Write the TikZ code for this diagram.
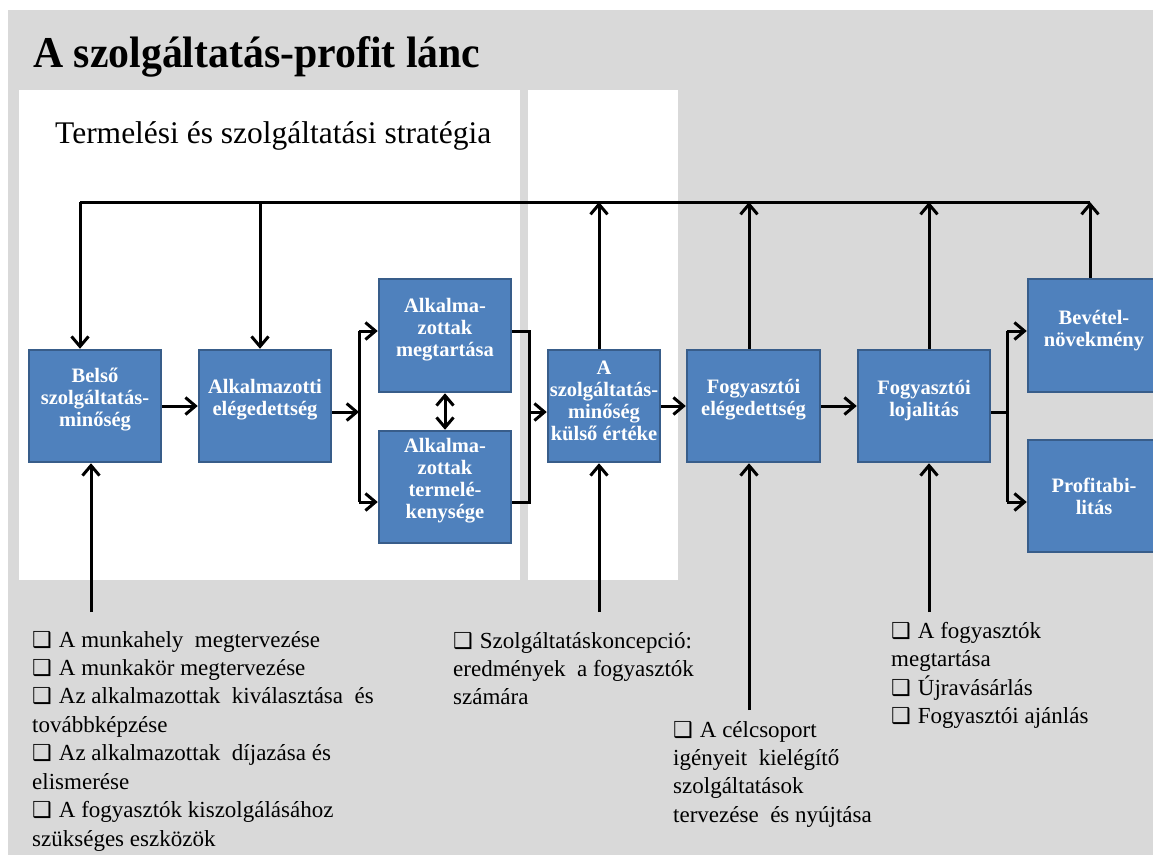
\documentclass[tikz,border=0pt]{standalone}
\usepackage{fontspec}
\setmainfont{Liberation Serif}
\newfontfamily\titlefont{Liberation Serif}[FakeStretch=0.95]
\newfontfamily\dvs{DejaVu Sans}
\usetikzlibrary{arrows.meta}
\definecolor{bggrey}{HTML}{D9D9D9}
\definecolor{boxfill}{HTML}{4F81BD}
\definecolor{boxline}{HTML}{385D8A}
\newcommand\chk{{\dvs\fontsize{22}{22}\selectfont ❑}\hspace{7pt}}
\tikzset{
  tip/.tip={Straight Barb[length=10pt,width=17pt,line width=3pt]},
  bbox/.style={draw=boxline, line width=2.5pt, fill=boxfill, minimum width=132pt, minimum height=112pt, inner sep=0pt},
  btext/.style={text=white, font=\fontsize{20.5}{22}\selectfont\bfseries, align=center, inner sep=0pt},
  conn/.style={line width=3pt, draw=black, line join=miter},
  arr/.style={conn, -tip},
  darr/.style={conn, tip-tip},
  lst/.style={anchor=base west, inner sep=0pt, font=\fontsize{23}{28}\selectfont},
}
\begin{document}
\begin{tikzpicture}[x=1pt,y=-1pt]
\useasboundingbox (0,0) rectangle (1153,854);
\clip (0,0) rectangle (1153,854);
% backgrounds
\fill[bggrey] (8,10) rectangle (1160,860);
\fill[white] (19,90) rectangle (520,580);
\fill[white] (528,90) rectangle (678,580);
% headings
\node[anchor=base west, inner sep=0pt, font=\titlefont\fontsize{44}{44}\selectfont\bfseries] (title) at (33,67) {A szolgáltatás-profit lánc};
\node[anchor=base west, inner sep=0pt, font=\fontsize{31.5}{31.5}\selectfont] (strat) at (55,143) {Termelési és szolgáltatási stratégia};
% boxes
\node[bbox] (b1) at (95,406) {};
\node[bbox] (b2) at (265,406) {};
\node[bbox, minimum height=113pt] (b3) at (445,335.5) {};
\node[bbox] (b4) at (445,487) {};
\node[bbox, minimum width=112pt] (b5) at (604,406) {};
\node[bbox, minimum width=133pt] (b6) at (753.5,406) {};
\node[bbox] (b7) at (924,406) {};
\node[bbox, minimum height=113pt] (b8) at (1094,335.5) {};
\node[bbox] (b9) at (1094,496) {};
% box texts
\node[btext] (t1) at ([yshift=6pt]b1.center) {Belső\\szolgáltatás-\\minőség};
\node[btext] (t2) at ([yshift=6pt]b2.center) {Alkalmazotti\\elégedettség};
\node[btext] (t3) at ([yshift=6pt]b3.center) {Alkalma-\\zottak\\megtartása};
\node[btext] (t4) at ([yshift=6pt]b4.center) {Alkalma-\\zottak\\termelé-\\kenysége};
\node[btext] (t5) at ([yshift=5pt]b5.center) {A\\szolgáltatás-\\minőség\\külső értéke};
\node[btext] (t6) at ([yshift=6pt]b6.center) {Fogyasztói\\elégedettség};
\node[btext] (t7) at ([yshift=5pt]b7.center) {Fogyasztói\\lojalitás};
\node[btext] (t8) at ([yshift=5pt]b8.center) {Bevétel-\\növekmény};
\node[btext] (t9) at (b9.center) {Profitabi-\\litás};
% coordinates
\coordinate (tl) at (80,202);
\coordinate (t2c) at (260,202);
\coordinate (u5) at (599,202);
\coordinate (u6) at (749,202);
\coordinate (u7) at (929,202);
\coordinate (u8) at (1090,202);
\coordinate (d1) at (91,612);
\coordinate (d5) at (599,612);
\coordinate (d6) at (749,710);
\coordinate (d7) at (929,612);
\coordinate (j1) at (359,412);
\coordinate (j1t) at (359,331);
\coordinate (j1b) at (359,502);
\coordinate (j2) at (529,412);
\coordinate (j2t) at (529,331);
\coordinate (j2b) at (529,502);
\coordinate (j3) at (1007,412);
\coordinate (j3t) at (1007,331);
\coordinate (j3b) at (1007,502);
% top feedback loop
\draw[conn] (u8) -- (tl);
\draw[arr] (tl) -- (tl |- b1.north);
\draw[arr] (t2c) -- (t2c |- b2.north);
\draw[arr] (u5 |- b5.north) -- (u5);
\draw[arr] (u6 |- b6.north) -- (u6);
\draw[arr] (u7 |- b7.north) -- (u7);
\draw[arr] (u8 |- b8.north) -- (u8);
% bottom inputs
\draw[arr] (d1) -- (d1 |- b1.south);
\draw[arr] (d5) -- (d5 |- b5.south);
\draw[arr] (d6) -- (d6 |- b6.south);
\draw[arr] (d7) -- (d7 |- b7.south);
% main chain
\draw[arr] (b1.east) -- (b2.west);
\draw[arr] (b2.east |- j1) -- (j1);
\draw[conn] (j1t) -- (j1b);
\draw[arr] (j1t) -- (j1t -| b3.west);
\draw[arr] (j1b) -- (j1b -| b4.west);
\draw[darr] (b3.south) -- (b4.north);
\draw[conn] (b3.east |- j2t) -- (j2t) -- (j2b) -- (b4.east |- j2b);
\draw[arr] (j2) -- (j2 -| b5.west);
\draw[arr] (b5.east) -- (b6.west);
\draw[arr] (b6.east) -- (b7.west);
\draw[conn] (b7.east |- j3) -- (j3);
\draw[conn] (j3t) -- (j3b);
\draw[arr] (j3t) -- (j3t -| b8.west);
\draw[arr] (j3b) -- (j3b -| b9.west);
% lists
\node[lst] (l1) at (32,647) {\chk A munkahely\ \ megtervezése};
\node[lst] (l2) at (32,675) {\chk A munkakör megtervezése};
\node[lst] (l3) at (32,703) {\chk Az alkalmazottak\ \ kiválasztása\ \ és};
\node[lst] (l4) at (32,732) {továbbképzése};
\node[lst] (l5) at (32,760) {\chk Az alkalmazottak\ \ díjazása és};
\node[lst] (l6) at (32,789) {elismerése};
\node[lst] (l7) at (32,817) {\chk A fogyasztók kiszolgálásához};
\node[lst] (l8) at (32,846) {szükséges eszközök};
\node[lst] (m1) at (453,648) {\chk Szolgáltatáskoncepció:};
\node[lst] (m2) at (453,676) {eredmények\ \ a fogyasztók};
\node[lst] (m3) at (453,704) {számára};
\node[lst] (c1) at (673,737) {\chk A célcsoport};
\node[lst] (c2) at (673,765) {igényeit\ \ kielégítő};
\node[lst] (c3) at (673,793) {szolgáltatások};
\node[lst] (c4) at (673,822) {tervezése\ \ és nyújtása};
\node[lst] (r1) at (891,638) {\chk A fogyasztók};
\node[lst] (r2) at (891,666) {megtartása};
\node[lst] (r3) at (891,695) {\chk Újravásárlás};
\node[lst] (r4) at (891,723) {\chk Fogyasztói ajánlás};
\end{tikzpicture}
\end{document}
